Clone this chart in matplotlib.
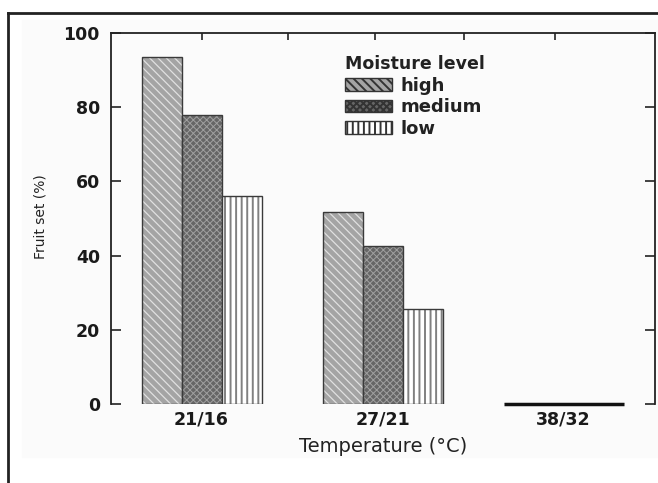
import numpy as np
import matplotlib
matplotlib.use("Agg")
import matplotlib.pyplot as plt
from matplotlib.patches import Rectangle, Patch
from matplotlib.lines import Line2D

plt.rcParams['font.family'] = ['DejaVu Sans']

temps = ["21/16", "27/21", "38/32"]
levels = ["high", "medium", "low"]
high = [93.5, 51.7, 0]
medium = [78, 42.6, 0]
low = [56, 25.6, 0]

# look of each moisture level: face, hatch colour, hatch, hatch width
styles = {
    "high": ("#a4a4a4", "#e0e0e0", "\\\\\\\\", 0.9),
    "medium": ("#666666", "#a0a0a0", "xxxxx", 0.7),
    "low": ("#ffffff", "#808080", "|||", 1.4),
}

fig = plt.figure(figsize=(6.58, 4.83), dpi=100)

# scanned page frame
fig.patches.append(Rectangle((22 / 658, 1 - 457 / 483), 1, 437 / 483,
                             transform=fig.transFigure, color="#fbfbfb", zorder=-5))
fig.lines.append(Line2D([8 / 658, 8 / 658], [0, 1 - 13 / 483], transform=fig.transFigure,
                        color="#222222", lw=2, zorder=-4))
fig.lines.append(Line2D([8 / 658, 1], [1 - 13 / 483, 1 - 13 / 483], transform=fig.transFigure,
                        color="#222222", lw=2, zorder=-4))

ax = fig.add_axes([111 / 658, 1 - 404 / 483, 544 / 658, 371 / 483])
ax.patch.set_alpha(0)

x = np.arange(len(temps))
w = 0.221
series = [high, medium, low]
for i, (name, vals) in enumerate(zip(levels, series)):
    face, hcol, hatch, hlw = styles[name]
    plt.rcParams['hatch.linewidth'] = hlw
    pos = x + (i - 1) * w
    ax.bar(pos, vals, w, color=face, edgecolor=hcol, hatch=hatch, linewidth=0)
    ax.bar(pos, vals, w, fill=False, edgecolor="#3a3a3a", linewidth=1.0)

# zero values drawn as a solid line
zero = [j for j in range(len(temps)) if high[j] == 0 and medium[j] == 0 and low[j] == 0]
for j in zero:
    ax.plot([x[j] - 1.5 * w, x[j] + 1.5 * w], [0, 0], color="#111111", lw=2.5,
            solid_capstyle="butt", clip_on=False)

ax.set_xlim(-0.5, 2.505)
ax.set_ylim(0, 100)
ax.set_yticks([0, 20, 40, 60, 80, 100])
ax.set_xticks(x)
ax.set_xticklabels(temps)
ax.tick_params(axis="x", length=0, pad=5, labelsize=12.5)
ax.tick_params(axis="y", direction="in", length=7, width=1.2, pad=8, labelsize=12.5,
               left=True, right=True, color="#222222")
for lab in ax.get_xticklabels() + ax.get_yticklabels():
    lab.set_fontweight("bold")
    lab.set_color("#1a1a1a")

ax.spines["bottom"].set_visible(False)
for s in ["left", "right", "top"]:
    ax.spines[s].set_color("#222222")
    ax.spines[s].set_linewidth(1.3)

top = ax.secondary_xaxis("top")
top.set_xticks([0, 0.48, 0.96, 1.45, 1.95])
top.set_xticklabels([])
top.tick_params(direction="in", length=5, width=1.2, color="#222222")
top.spines["top"].set_visible(False)

ax.set_xlabel("Temperature (°C)", fontsize=14, color="#222222")
ax.xaxis.set_label_coords(0.5, -0.088)
ax.set_ylabel("Fruit set (%)", fontsize=10, color="#222222")
ax.yaxis.set_label_coords(-0.116, 0.505)

handles = []
for n in levels:
    plt.rcParams['hatch.linewidth'] = styles[n][3]
    handles.append(Patch(facecolor=styles[n][0], edgecolor=styles[n][1],
                         hatch=styles[n][2], linewidth=0))
leg = ax.legend(handles, levels, title="Moisture level", loc="upper left",
                bbox_to_anchor=(0.43, 0.94), frameon=False, borderpad=0,
                borderaxespad=0, handlelength=2.6, handleheight=0.7, handletextpad=0.5,
                labelspacing=0.2, fontsize=13, title_fontsize=12.5, alignment="left")
leg.get_title().set_fontweight("bold")
leg.get_title().set_color("#222222")
for t in leg.get_texts():
    t.set_fontweight("bold")
    t.set_color("#222222")
for h in leg.legend_handles:
    h.set_edgecolor("#333333")
    h.set_linewidth(1.0)

fig.savefig("out.png", dpi=100)
